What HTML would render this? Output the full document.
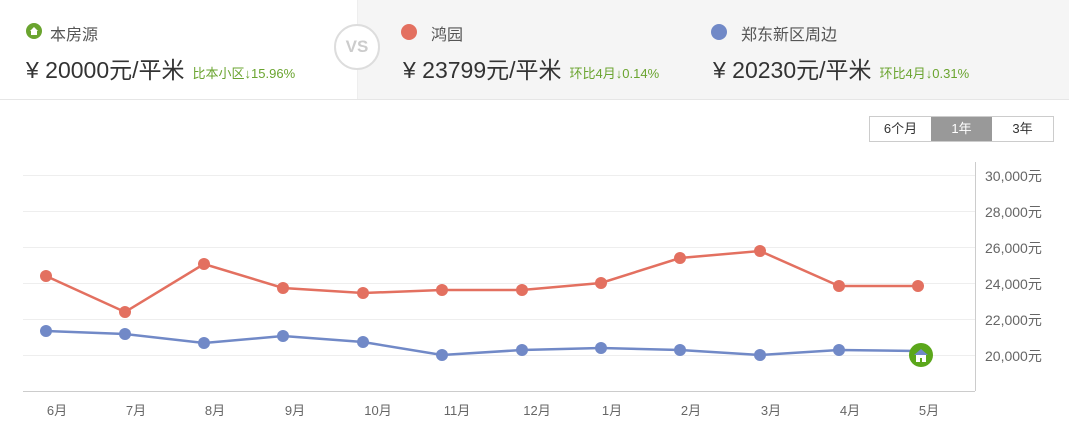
<!DOCTYPE html>
<html><head><meta charset="utf-8"><style>
body{margin:0;width:1069px;height:432px;background:#fff;font-family:"Liberation Sans","Noto Sans CJK SC",sans-serif;overflow:hidden;position:relative}
.hdr{position:absolute;left:0;top:0;width:1069px;height:99px;border-bottom:1px solid #e6e6e6}
.rp{position:absolute;left:357px;top:0;width:712px;height:99px;background:#f5f5f5;border-left:1px solid #eee}
.t{position:absolute;font-size:16px;color:#555;white-space:nowrap}
.p{position:absolute;font-size:23px;color:#333;white-space:nowrap}
.g{font-size:13px;color:#6aa42f;margin-left:8px}
.dot{position:absolute;width:16px;height:16px;border-radius:50%}
.vs{position:absolute;left:334px;top:24px;width:42px;height:42px;border:2px solid #ddd;border-radius:50%;background:#fff;color:#ccc;font-weight:bold;font-size:17px;text-align:center;line-height:42px}
.btns{position:absolute;left:869px;top:116px;display:flex;border:1px solid #ccc;font-size:13px}
.btns div{width:61px;height:24px;line-height:24px;text-align:center;color:#333;background:#fff}
.btns div.a{background:#999;color:#fff}
</style></head><body>
<div class="hdr"></div><div class="rp"></div>
<div class="dot" style="left:26px;top:23px;width:16px;height:16px;background:#6aa42f"></div>
<div style="position:absolute;left:30px;top:27px;width:0;height:0;border-left:4px solid transparent;border-right:4px solid transparent;border-bottom:4px solid #fff"></div>
<div style="position:absolute;left:31px;top:31px;width:6px;height:4px;background:#fff"></div>
<div class="t" style="left:50px;top:21px">本房源</div>
<div class="p" style="left:26px;top:51px">¥ 20000元/平米<span class="g">比本小区↓15.96%</span></div>
<div class="vs">VS</div>
<div class="dot" style="left:401px;top:24px;background:#e37060"></div>
<div class="t" style="left:431px;top:21px">鸿园</div>
<div class="p" style="left:403px;top:51px">¥ 23799元/平米<span class="g">环比4月↓0.14%</span></div>
<div class="dot" style="left:711px;top:24px;background:#7189c7"></div>
<div class="t" style="left:741px;top:21px">郑东新区周边</div>
<div class="p" style="left:713px;top:51px">¥ 20230元/平米<span class="g">环比4月↓0.31%</span></div>
<div class="btns"><div>6个月</div><div class="a">1年</div><div>3年</div></div>
<svg style="position:absolute;left:0;top:0" width="1069" height="432">
<g stroke="#eee" stroke-width="1">
<line x1="23" x2="975" y1="175.5" y2="175.5"/><line x1="23" x2="975" y1="211.5" y2="211.5"/><line x1="23" x2="975" y1="247.5" y2="247.5"/><line x1="23" x2="975" y1="283.5" y2="283.5"/><line x1="23" x2="975" y1="319.5" y2="319.5"/><line x1="23" x2="975" y1="355.5" y2="355.5"/>
</g>
<line x1="23" x2="975" y1="391.5" y2="391.5" stroke="#ccc"/>
<line x1="975.5" x2="975.5" y1="162" y2="391" stroke="#ccc"/>
<g font-size="14" fill="#666" font-family="Liberation Sans,Noto Sans CJK SC,sans-serif">
<text x="985" y="181">30,000元</text><text x="985" y="217">28,000元</text><text x="985" y="253">26,000元</text><text x="985" y="289">24,000元</text><text x="985" y="325">22,000元</text><text x="985" y="361">20,000元</text>
</g>
<g font-size="13" fill="#666" text-anchor="middle" font-family="Liberation Sans,Noto Sans CJK SC,sans-serif">
<text x="57" y="415">6月</text><text x="136" y="415">7月</text><text x="215" y="415">8月</text><text x="295" y="415">9月</text><text x="378" y="415">10月</text><text x="457" y="415">11月</text><text x="537" y="415">12月</text><text x="612" y="415">1月</text><text x="691" y="415">2月</text><text x="771" y="415">3月</text><text x="850" y="415">4月</text><text x="929" y="415">5月</text>
</g>
<polyline fill="none" stroke="#e37060" stroke-width="2.5" points="46,276 125,312 204,264 283,288 363,293 442,290 522,290 601,283 680,258 760,251 839,286 918,286"/>
<g fill="#e37060"><circle cx="46" cy="276" r="6"/><circle cx="125" cy="312" r="6"/><circle cx="204" cy="264" r="6"/><circle cx="283" cy="288" r="6"/><circle cx="363" cy="293" r="6"/><circle cx="442" cy="290" r="6"/><circle cx="522" cy="290" r="6"/><circle cx="601" cy="283" r="6"/><circle cx="680" cy="258" r="6"/><circle cx="760" cy="251" r="6"/><circle cx="839" cy="286" r="6"/><circle cx="918" cy="286" r="6"/></g>
<polyline fill="none" stroke="#7189c7" stroke-width="2.5" points="46,331 125,334 204,343 283,336 363,342 442,355 522,350 601,348 680,350 760,355 839,350 918,351"/>
<g fill="#7189c7"><circle cx="46" cy="331" r="6"/><circle cx="125" cy="334" r="6"/><circle cx="204" cy="343" r="6"/><circle cx="283" cy="336" r="6"/><circle cx="363" cy="342" r="6"/><circle cx="442" cy="355" r="6"/><circle cx="522" cy="350" r="6"/><circle cx="601" cy="348" r="6"/><circle cx="680" cy="350" r="6"/><circle cx="760" cy="355" r="6"/><circle cx="839" cy="350" r="6"/></g>
<circle cx="921" cy="355" r="12" fill="#5ba71b"/>
<path d="M914,355 L921,349 L928,355 Z" fill="#7189c7"/>
<rect x="916" y="355" width="10" height="7" fill="#fff"/>
<rect x="920" y="358" width="2" height="4" fill="#5ba71b"/>
</svg>
</body></html>
